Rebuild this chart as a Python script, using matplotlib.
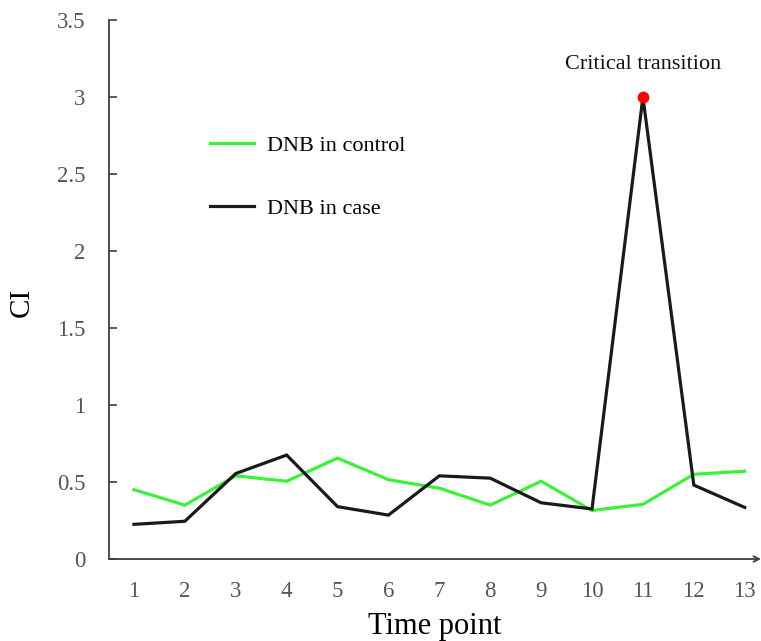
import matplotlib
matplotlib.use("Agg")
import matplotlib.pyplot as plt

time_points = [1, 2, 3, 4, 5, 6, 7, 8, 9, 10, 11, 12, 13]
dnb_control = [0.45, 0.35, 0.54, 0.505, 0.655, 0.515, 0.46, 0.35, 0.505, 0.315, 0.355, 0.55, 0.57]
dnb_case = [0.225, 0.245, 0.555, 0.675, 0.34, 0.285, 0.54, 0.525, 0.365, 0.325, 3.0, 0.48, 0.335]
critical_idx = 10
y_ticks = [0, 0.5, 1, 1.5, 2, 2.5, 3, 3.5]
y_tick_labels = ["0", "0.5", "1", "1.5", "2", "2.5", "3", "3.5"]

plt.rcParams['font.family'] = ['Liberation Serif', 'DejaVu Serif']

fig = plt.figure(figsize=(7.61, 6.41), dpi=100)
ax = fig.add_axes([109 / 761, 82 / 641, 1 - 109 / 761, 539 / 641])

ax.plot(time_points, dnb_control, color="#3cf03c", lw=2.3, label="DNB in control", solid_joinstyle="miter")
ax.plot(time_points, dnb_case, color="#1a1a1a", lw=2.3, label="DNB in case", solid_joinstyle="miter")
ax.plot(time_points[critical_idx], dnb_case[critical_idx], "o", color="#ff0000", ms=7.5, zorder=5)
ax.text(time_points[critical_idx], dnb_case[critical_idx] + 0.21, "Critical transition",
        ha="center", va="center", fontsize=16, color="#111111")

ax.set_xlim(0.51, 13.32)
ax.set_ylim(0, 3.5)
ax.set_xticks(time_points)
ax.set_yticks(y_ticks)
ax.set_yticklabels(y_tick_labels)
ax.tick_params(axis="x", length=0, pad=16, labelsize=16.5, labelcolor="#555555")
ax.tick_params(axis="y", direction="in", length=6, width=1.2, color="#404040",
               pad=17, labelsize=16.5, labelcolor="#555555")

for s in ["top", "right", "bottom"]:
    ax.spines[s].set_visible(False)
ax.spines["left"].set_color("#404040")
ax.spines["left"].set_linewidth(1.3)
ax.annotate("", xy=(1.0, 0), xytext=(0, 0), xycoords="axes fraction",
            arrowprops=dict(arrowstyle="->", color="#404040", lw=1.3, shrinkA=0, shrinkB=0),
            annotation_clip=False)

ax.set_ylabel("CI", fontsize=21)
ax.yaxis.set_label_coords(-0.114, 0.477)
ax.set_xlabel("Time point", fontsize=22, labelpad=7)

ax.legend(loc="upper left", bbox_to_anchor=(210 / 761, 1 - 135 / 641),
          bbox_transform=fig.transFigure, frameon=False, fontsize=16,
          handlelength=2.0, handletextpad=0.55, labelspacing=1.93,
          borderpad=0, borderaxespad=0)

fig.savefig("out.png", dpi=100)
